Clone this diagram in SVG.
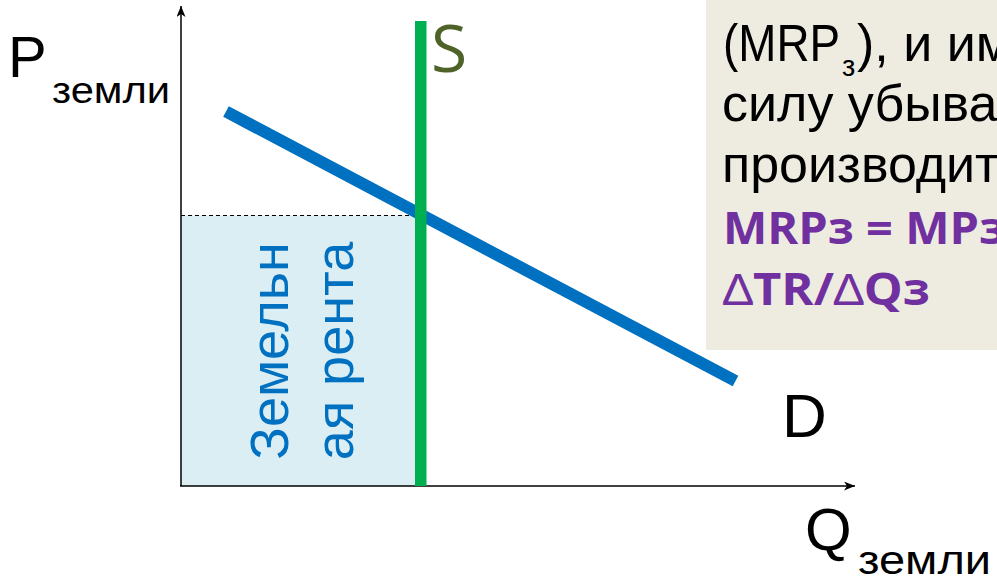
<svg xmlns="http://www.w3.org/2000/svg" width="997" height="581" viewBox="0 0 997 581">
  <style>
    .lbl { font-family: "Liberation Sans", Arial, sans-serif; fill: #000000; }
    .box { font-family: "Liberation Sans", Arial, sans-serif; font-size: 52px; fill: #000000; }
    .sub { font-family: "Liberation Sans", Arial, sans-serif; font-size: 29px; fill: #000000; }
    .bold { font-family: "Open Sans", "Liberation Sans", sans-serif; font-size: 45px; font-weight: bold; fill: #7030A0; }
    .rent { font-family: "Liberation Sans", Arial, sans-serif; font-size: 54px; fill: #0070C0; }
    .axis { stroke: #000000; stroke-width: 1.5; fill: none; }
  </style>
  <defs>
    <marker id="arr" markerUnits="userSpaceOnUse" markerWidth="12" markerHeight="10" refX="11" refY="4.5" orient="auto">
      <path d="M0,0 L11,4.5 L0,9 L3,4.5 z" fill="#000000"/>
    </marker>
  </defs>
  <rect width="997" height="581" fill="#FFFFFF"/>

  <g id="rent-area">
    <rect x="181" y="215.5" width="235" height="270.5" fill="#DBEEF4"/>
    <line x1="181" y1="215.5" x2="416" y2="215.5" stroke="#000000" stroke-width="1" stroke-dasharray="4,3"/>
    <text class="rent" text-anchor="middle" transform="translate(288,351) rotate(-90)">Земельн</text>
    <text class="rent" text-anchor="middle" transform="translate(353,351) rotate(-90)">ая рента</text>
  </g>

  <g id="axes">
    <line class="axis" x1="181" y1="486" x2="181" y2="6" marker-end="url(#arr)"/>
    <line class="axis" x1="180" y1="486" x2="855" y2="486" marker-end="url(#arr)"/>
  </g>

  <g id="demand">
    <line x1="226" y1="111.5" x2="735.5" y2="381" stroke="#0070C0" stroke-width="12"/>
    <text class="lbl" x="782" y="437" font-size="62">D</text>
  </g>

  <g id="supply">
    <rect x="415" y="21" width="11.5" height="465" fill="#00B050"/>
    <text x="431" y="72" font-family="Open Sans, Liberation Sans, sans-serif" font-size="66" fill="#4F6228">S</text>
  </g>

  <g id="p-label">
    <text class="lbl" x="8" y="77" font-size="58">P</text>
    <text class="lbl" x="52" y="103" font-size="36" textLength="118" lengthAdjust="spacingAndGlyphs">земли</text>
  </g>

  <g id="q-label">
    <text class="lbl" x="805" y="550" font-size="60">Q</text>
    <text class="lbl" x="858" y="574" font-size="40" textLength="133" lengthAdjust="spacingAndGlyphs">земли</text>
  </g>

  <g id="note">
    <rect x="706" y="-1" width="292" height="351" fill="#EEECE1"/>
    <text class="box" x="723" y="61" textLength="117" lengthAdjust="spacingAndGlyphs">(MRP</text>
    <text class="sub" x="842" y="76">з</text>
    <text class="box" x="857" y="61">), и им</text>
    <text class="box" x="722" y="121">силу убыва</text>
    <text class="box" x="722" y="182">производит</text>
    <text class="bold" x="723" y="244" textLength="282" lengthAdjust="spacingAndGlyphs">MRPз = MPз</text>
    <text class="bold" x="723" y="305" textLength="207" lengthAdjust="spacingAndGlyphs"><tspan font-weight="normal" font-family="Liberation Sans, sans-serif">∆</tspan>TR/<tspan font-weight="normal" font-family="Liberation Sans, sans-serif">∆</tspan>Qз</text>
  </g>
</svg>
